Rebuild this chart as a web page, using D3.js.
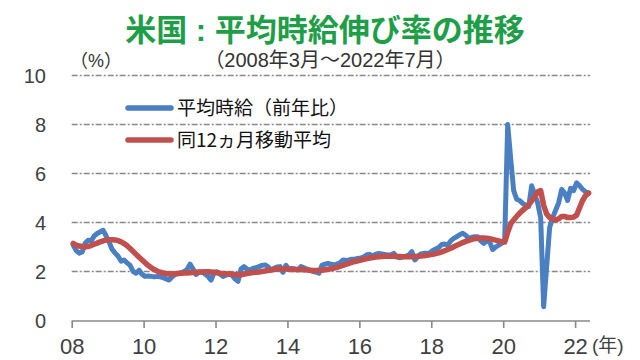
<!DOCTYPE html>
<html><head><meta charset="utf-8">
<script src="https://cdn.jsdelivr.net/npm/d3@7"></script>
<style>
html,body{margin:0;padding:0;background:#fff;}
svg{display:block;}
text{font-family:"Liberation Sans",Arial,"Noto Sans CJK JP",sans-serif;}
.cjk{font-family:"Noto Sans CJK JP","Liberation Sans",sans-serif;}
</style></head><body>
<svg id="chart" width="640" height="360"></svg>
<script>
// Monthly data: 2008-03 .. 2022-07 (173 months)
const startYear = 2008, startMonth = 3;
const wageGrowth = [
3.08,2.85,2.75,2.8,3.15,3.28,3.25,3.45,3.55,3.62,3.68,3.45,
3.2,2.9,2.75,2.62,2.42,2.47,2.35,2.25,2.0,1.93,2.05,1.88,
1.8,1.82,1.8,1.78,1.8,1.78,1.75,1.7,1.65,1.78,1.88,1.92,
1.95,2.0,2.08,2.3,2.1,1.88,1.97,1.98,1.9,1.8,1.65,1.95,
1.99,1.9,1.8,1.85,1.9,1.85,1.7,1.6,2.1,2.2,2.1,2.06,
2.13,2.15,2.2,2.25,2.27,2.2,2.06,2.13,2.18,2.2,1.97,2.25,
2.1,2.13,2.1,2.06,2.2,2.15,2.1,2.05,2.0,1.98,1.93,2.25,
2.3,2.33,2.3,2.27,2.3,2.35,2.47,2.45,2.47,2.5,2.5,2.54,
2.55,2.6,2.68,2.7,2.63,2.71,2.74,2.72,2.7,2.67,2.68,2.74,
2.6,2.56,2.6,2.63,2.67,2.81,2.47,2.6,2.72,2.74,2.74,2.76,
2.86,2.92,2.98,3.1,3.12,3.08,3.25,3.35,3.42,3.5,3.56,3.48,
3.35,3.4,3.42,3.42,3.25,3.15,3.25,3.2,2.9,3.0,3.08,3.15,
3.3,8.0,6.6,5.3,4.95,4.9,4.78,4.7,4.65,5.5,5.15,4.8,
4.2,0.56,2.2,3.8,4.2,4.5,4.8,5.35,5.2,4.9,5.4,5.3,
5.62,5.5,5.35,5.25,5.2
];
const movingAvg12 = [
3.15,3.08,3.04,3.02,3.01,3.02,3.06,3.11,3.16,3.21,3.25,3.28,
3.3,3.3,3.29,3.26,3.21,3.14,3.05,2.94,2.82,2.7,2.58,2.47,
2.36,2.25,2.16,2.08,2.02,1.97,1.94,1.92,1.9,1.9,1.91,1.92,
1.93,1.94,1.94,1.95,1.96,1.97,1.98,1.98,1.99,1.99,1.98,1.97,
1.95,1.93,1.92,1.91,1.9,1.89,1.88,1.87,1.87,1.89,1.92,1.94,
1.96,1.97,1.98,2.0,2.02,2.04,2.06,2.08,2.1,2.11,2.11,2.1,
2.09,2.08,2.08,2.08,2.08,2.07,2.06,2.05,2.04,2.04,2.04,2.05,
2.07,2.09,2.11,2.14,2.17,2.21,2.25,2.29,2.33,2.37,2.41,2.44,
2.47,2.5,2.53,2.55,2.57,2.59,2.6,2.61,2.62,2.62,2.62,2.62,
2.61,2.61,2.6,2.6,2.6,2.6,2.61,2.62,2.63,2.64,2.66,2.68,
2.7,2.73,2.76,2.8,2.85,2.9,2.95,3.01,3.07,3.12,3.18,3.23,
3.27,3.31,3.34,3.36,3.37,3.37,3.36,3.34,3.31,3.28,3.25,3.22,
3.2,3.6,3.95,4.1,4.25,4.38,4.5,4.6,4.72,4.88,5.05,5.25,
5.3,4.7,4.35,4.2,4.15,4.1,4.15,4.25,4.25,4.2,4.2,4.22,
4.3,4.6,4.9,5.1,5.2
];
const yTicks = [0,2,4,6,8,10];
const xTickLabels = ["08","10","12","14","16","18","20","22"];
const seriesNames = ["平均時給（前年比）","同12ヵ月移動平均"];
const titleText = "米国 : 平均時給伸び率の推移";
const subtitleText = "（2008年3月～2022年7月）";

const svg = d3.select("#chart");
const n = wageGrowth.length;
const x = d3.scaleLinear().domain([0, n]).range([71.7, 590.1]);
const y = d3.scaleLinear().domain([0, 10]).range([320.5, 75.5]);

// title
svg.append("text").attr("x",325).attr("y",41)
  .attr("text-anchor","middle").attr("font-size",31).attr("font-weight","bold")
  .attr("fill","#1f9e48").text(titleText);
svg.append("text").attr("x",330).attr("y",67)
  .attr("text-anchor","middle").attr("font-size",20).attr("fill","#333").text(subtitleText);
svg.append("text").attr("x",96).attr("y",67)
  .attr("text-anchor","middle").attr("font-size",18).attr("fill","#333").text("（%）");

// gridlines
svg.append("g").selectAll("line").data(yTicks.filter(d=>d>0)).join("line")
  .attr("x1",71.7).attr("x2",590.1).attr("y1",d=>y(d)).attr("y2",d=>y(d))
  .attr("stroke","#888").attr("stroke-width",1.5).attr("stroke-dasharray","6,2,2,2");

// y labels
svg.append("g").selectAll("text").data(yTicks).join("text")
  .attr("x",46).attr("y",d=>y(d)+7).attr("text-anchor","end")
  .attr("font-size",20).attr("fill","#404040").text(d=>d);

// x axis
const tickIdx = xTickLabels.map((_,k)=>k*24);
const xAxis = d3.axisBottom(x).tickValues(tickIdx).tickSize(7)
  .tickFormat((d,k)=>xTickLabels[k]);
const gx = svg.append("g").attr("transform","translate(0,321)").call(xAxis);
gx.select(".domain").attr("stroke","#888").attr("stroke-width",1.6).attr("d","M71.7,0H590.1");
gx.selectAll(".tick line").attr("stroke","#888").attr("stroke-width",1.6);
gx.selectAll(".tick text").attr("font-size",22).attr("fill","#404040")
  .attr("font-family","'Liberation Sans',Arial,sans-serif").attr("dy",0).attr("y",33);
svg.append("text").attr("x",592).attr("y",352)
  .attr("text-anchor","start").attr("font-size",19).attr("fill","#404040").text("(年)");

// lines
const line = d3.line().x((d,i)=>x(i+0.5)).y(d=>y(d));
svg.append("path").datum(wageGrowth).attr("d",line).attr("fill","none")
  .attr("stroke","#4a7fc1").attr("stroke-width",5).attr("stroke-linejoin","round").attr("stroke-linecap","round");
svg.append("path").datum(movingAvg12).attr("d",line).attr("fill","none")
  .attr("stroke","#c0504d").attr("stroke-width",5.5).attr("stroke-linejoin","round").attr("stroke-linecap","round");

// legend
const colors = ["#4a7fc1","#c0504d"];
const lg = svg.append("g");
seriesNames.forEach((s,k)=>{
  const yy = 108 + k*32;
  lg.append("line").attr("x1",128).attr("x2",171).attr("y1",yy).attr("y2",yy)
    .attr("stroke",colors[k]).attr("stroke-width",5.5).attr("stroke-linecap","round");
  lg.append("text").attr("class","cjk").attr("x",177).attr("y",yy+7)
    .attr("font-size",19).attr("fill","#111").text(s);
});
</script>
</body></html>
